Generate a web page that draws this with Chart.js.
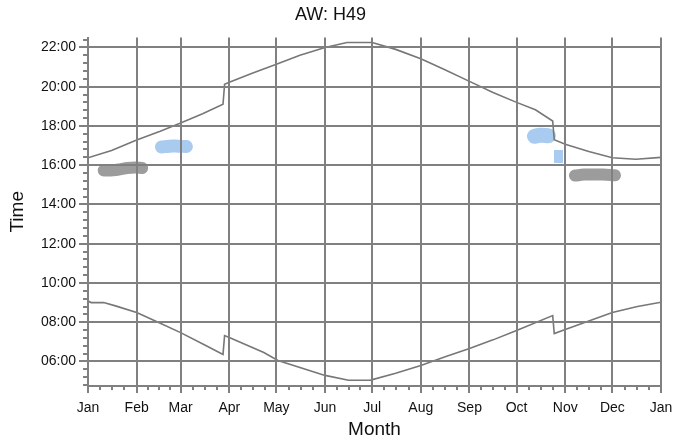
<!DOCTYPE html>
<html>
<head>
<meta charset="utf-8">
<script src="https://cdn.jsdelivr.net/npm/chart.js@4/dist/chart.umd.min.js"></script>
<style>
html,body{margin:0;padding:0;background:#fff;}
#wrap{width:674px;height:443px;}
</style>
</head>
<body>
<div id="wrap"><canvas id="c" width="674" height="443"></canvas></div>
<script>
// ---- data (x = day of year, y = hours) ----
const monthStarts = [0,31,59,90,120,151,181,212,243,273,304,334,365];
const monthLabels = ['Jan','Feb','Mar','Apr','May','Jun','Jul','Aug','Sep','Oct','Nov','Dec','Jan'];
const yTickValues = [6,8,10,12,14,16,18,20,22];
const yTickLabels = ['06:00','08:00','10:00','12:00','14:00','16:00','18:00','20:00','22:00'];

const sunsetDays  = [0,15,31,46,59,73,86,87,90,105,120,135,151,165,181,196,212,227,243,258,273,285,296,297,304,319,334,349,365];
const sunsetTimes = [16.38,16.75,17.28,17.73,18.15,18.62,19.1,20.12,20.22,20.7,21.14,21.6,22.0,22.25,22.25,21.9,21.42,20.87,20.27,19.7,19.2,18.82,18.25,17.3,17.07,16.7,16.38,16.3,16.4];

const sunriseDays  = [0,2,10,18,31,45,59,75,86,87,90,112,121,151,166,180,196,212,228,243,258,273,296,297,304,334,350,365];
const sunriseTimes = [9.08,9.0,9.0,8.82,8.49,7.98,7.47,6.81,6.36,7.32,7.22,6.46,6.05,5.29,5.04,5.05,5.4,5.8,6.25,6.66,7.1,7.58,8.34,7.42,7.63,8.49,8.8,9.02];

// observation clusters (day, hour)
const grayJanDays  = [10,16,21,25,30,34.5];
const grayJanTimes = [15.73,15.74,15.8,15.86,15.88,15.86];
const grayNovDays  = [310.2,316,322,328,335.7];
const grayNovTimes = [15.47,15.52,15.53,15.52,15.49];
const blueFebDays  = [46.8,52,57,62.7];
const blueFebTimes = [16.93,16.97,16.97,16.95];
const blueOctDays  = [284.4,288,293.3];
const blueOctTimes = [17.47,17.52,17.5];
const blueSqDays   = [299.7,299.7];
const blueSqTimes  = [16.77,16.11];

const pts = (xs, ys) => xs.map((x,i)=>({x:x, y:ys[i]}));
const fmtHour = v => { const i = yTickValues.indexOf(v); return i >= 0 ? yTickLabels[i] : ''; };

const FONT = "'Liberation Sans', Arial, sans-serif";
const GRID = '#808080';
const GRAYB = '#9c9c9c';
const BLUEB = '#a9cbf0';

const blob = (label, xs, ys, color, w, cap) => ({
  label, data:pts(xs,ys), showLine:true, borderColor:color, backgroundColor:color,
  borderWidth:w, borderCapStyle:cap||'round', borderJoinStyle:'round', pointRadius:0, tension:0.4, fill:false
});

const minorTicks = {
  id:'minorTicks',
  afterDraw(chart){
    const ctx = chart.ctx, xs = chart.scales.x, ys = chart.scales.y;
    ctx.save();
    ctx.strokeStyle = GRID; ctx.lineWidth = 2;
    ctx.beginPath();
    for (let m=0;m<monthStarts.length-1;m++){
      for (let q=1;q<4;q++){
        const v = monthStarts[m] + (monthStarts[m+1]-monthStarts[m])*q/4;
        const px = Math.round(xs.getPixelForValue(v));
        ctx.moveTo(px, ys.bottom); ctx.lineTo(px, ys.bottom+4);
      }
    }
    for (let k=0;k<60;k++){
      const v = 4.8 + k*0.4;
      if (v > ys.max) break;
      if (Math.abs(v/2 - Math.round(v/2)) < 1e-6) continue;
      const py = Math.round(ys.getPixelForValue(v));
      ctx.moveTo(xs.left-5, py); ctx.lineTo(xs.left, py);
    }
    ctx.stroke();
    ctx.restore();
  }
};

new Chart(document.getElementById('c'), {
  type:'scatter',
  data:{
    datasets:[
      {label:'sunset', data:pts(sunsetDays,sunsetTimes), showLine:true, borderColor:'#777', borderWidth:1.6, pointRadius:0, tension:0},
      {label:'sunrise', data:pts(sunriseDays,sunriseTimes), showLine:true, borderColor:'#777', borderWidth:1.6, pointRadius:0, tension:0},
      blob('grayJan', grayJanDays, grayJanTimes, GRAYB, 12),
      blob('grayNov', grayNovDays, grayNovTimes, GRAYB, 12),
      blob('blueFeb', blueFebDays, blueFebTimes, BLUEB, 13),
      blob('blueOct', blueOctDays, blueOctTimes, BLUEB, 15),
      blob('blueSq', blueSqDays, blueSqTimes, BLUEB, 9, 'butt')
    ]
  },
  options:{
    responsive:false, animation:false,
    layout:{padding:{left:0,right:13,top:0,bottom:0}},
    plugins:{
      legend:{display:false}, tooltip:{enabled:false},
      title:{display:true, text:'AW: H49', color:'#111', font:{family:FONT,size:18,weight:'normal'}, padding:{top:4,bottom:12}}
    },
    scales:{
      x:{
        type:'linear', min:0, max:365,
        afterBuildTicks:s=>{ s.ticks = monthStarts.map(v=>({value:v})); },
        afterFit:s=>{ s.height = 57; s.paddingLeft = 0; s.paddingRight = 0; },
        ticks:{autoSkip:false, maxRotation:0, padding:7, color:'#111', font:{family:FONT,size:14},
          callback:(v,i)=>monthLabels[i]},
        grid:{color:GRID, lineWidth:2, tickLength:7, z:1},
        border:{color:GRID, width:2, z:2},
        title:{display:true, text:'Month', color:'#111', font:{family:FONT,size:19}, padding:{top:0,bottom:2}}
      },
      y:{
        type:'linear', min:4.75, max:22.5,
        afterBuildTicks:s=>{ s.ticks = yTickValues.map(v=>({value:v})); },
        afterFit:s=>{ s.width = 88; s.paddingTop = 0; s.paddingBottom = 0; },
        ticks:{autoSkip:false, padding:3, color:'#111', font:{family:FONT,size:14}, callback:v=>fmtHour(v)},
        grid:{color:GRID, lineWidth:2, tickLength:9, z:1},
        border:{color:GRID, width:2, z:2},
        title:{display:true, text:'Time', color:'#111', font:{family:FONT,size:19}, padding:{top:6,bottom:0}}
      }
    }
  },
  plugins:[minorTicks]
});
</script>
</body>
</html>
